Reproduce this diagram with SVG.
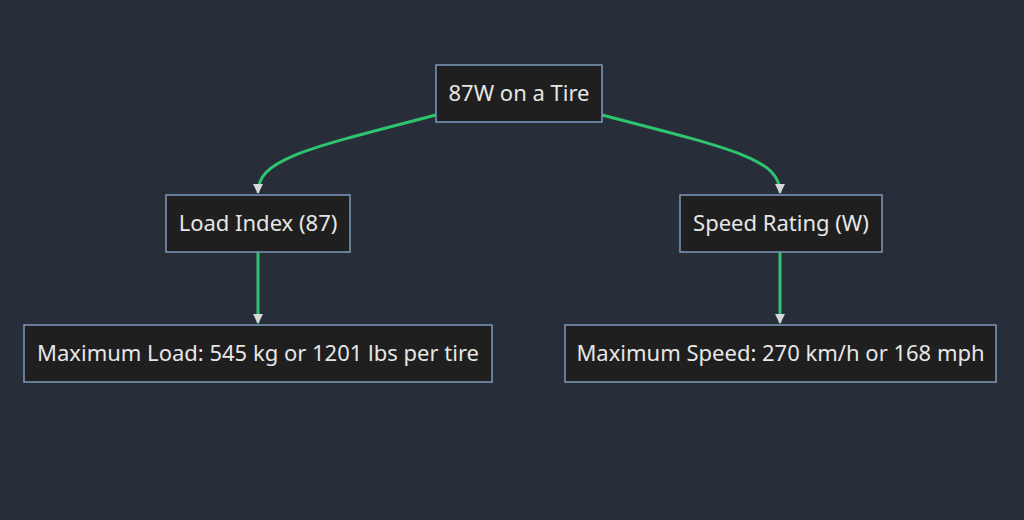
<svg xmlns="http://www.w3.org/2000/svg" width="1024" height="520" viewBox="0 0 1024 520">
<style>
.n rect{fill:#1f1f1f;stroke:#7d9bbd;stroke-width:1.5}
.n text{font-family:"Noto Sans","Open Sans",sans-serif;font-size:22px;fill:#e6e6e6;text-anchor:middle;dominant-baseline:central}
.c path{fill:none;stroke:#2ec46e;stroke-width:3}
</style>
<defs><marker id="a" viewBox="0 0 10 10" refX="9" refY="5" markerWidth="3.5" markerHeight="3.5" orient="auto"><path d="M0,0L10,5L0,10z" fill="#d8d8d8"/></marker></defs>
<rect width="1024" height="520" fill="#282d3a"/>
<g class="c">
<path d="M436,115 C300,150 258,160 258,193" marker-end="url(#a)"/>
<path d="M602,115 C738,150 780,160 780,193" marker-end="url(#a)"/>
<path d="M258,252 L258,323" marker-end="url(#a)"/>
<path d="M780,252 L780,323" marker-end="url(#a)"/>
</g>
<g id="root" class="n"><rect x="436" y="65" width="166" height="57"/><text x="519" y="92">87W on a Tire</text></g>
<g id="load" class="n"><rect x="166" y="195" width="184" height="57"/><text x="258" y="222">Load Index (87)</text></g>
<g id="speed" class="n"><rect x="680" y="195" width="202" height="57"/><text x="781" y="222">Speed Rating (W)</text></g>
<g id="maxload" class="n"><rect x="24" y="325" width="468" height="57"/><text x="258" y="352">Maximum Load: 545 kg or 1201 lbs per tire</text></g>
<g id="maxspeed" class="n"><rect x="565" y="325" width="431" height="57"/><text x="780.5" y="352">Maximum Speed: 270 km/h or 168 mph</text></g>
</svg>
